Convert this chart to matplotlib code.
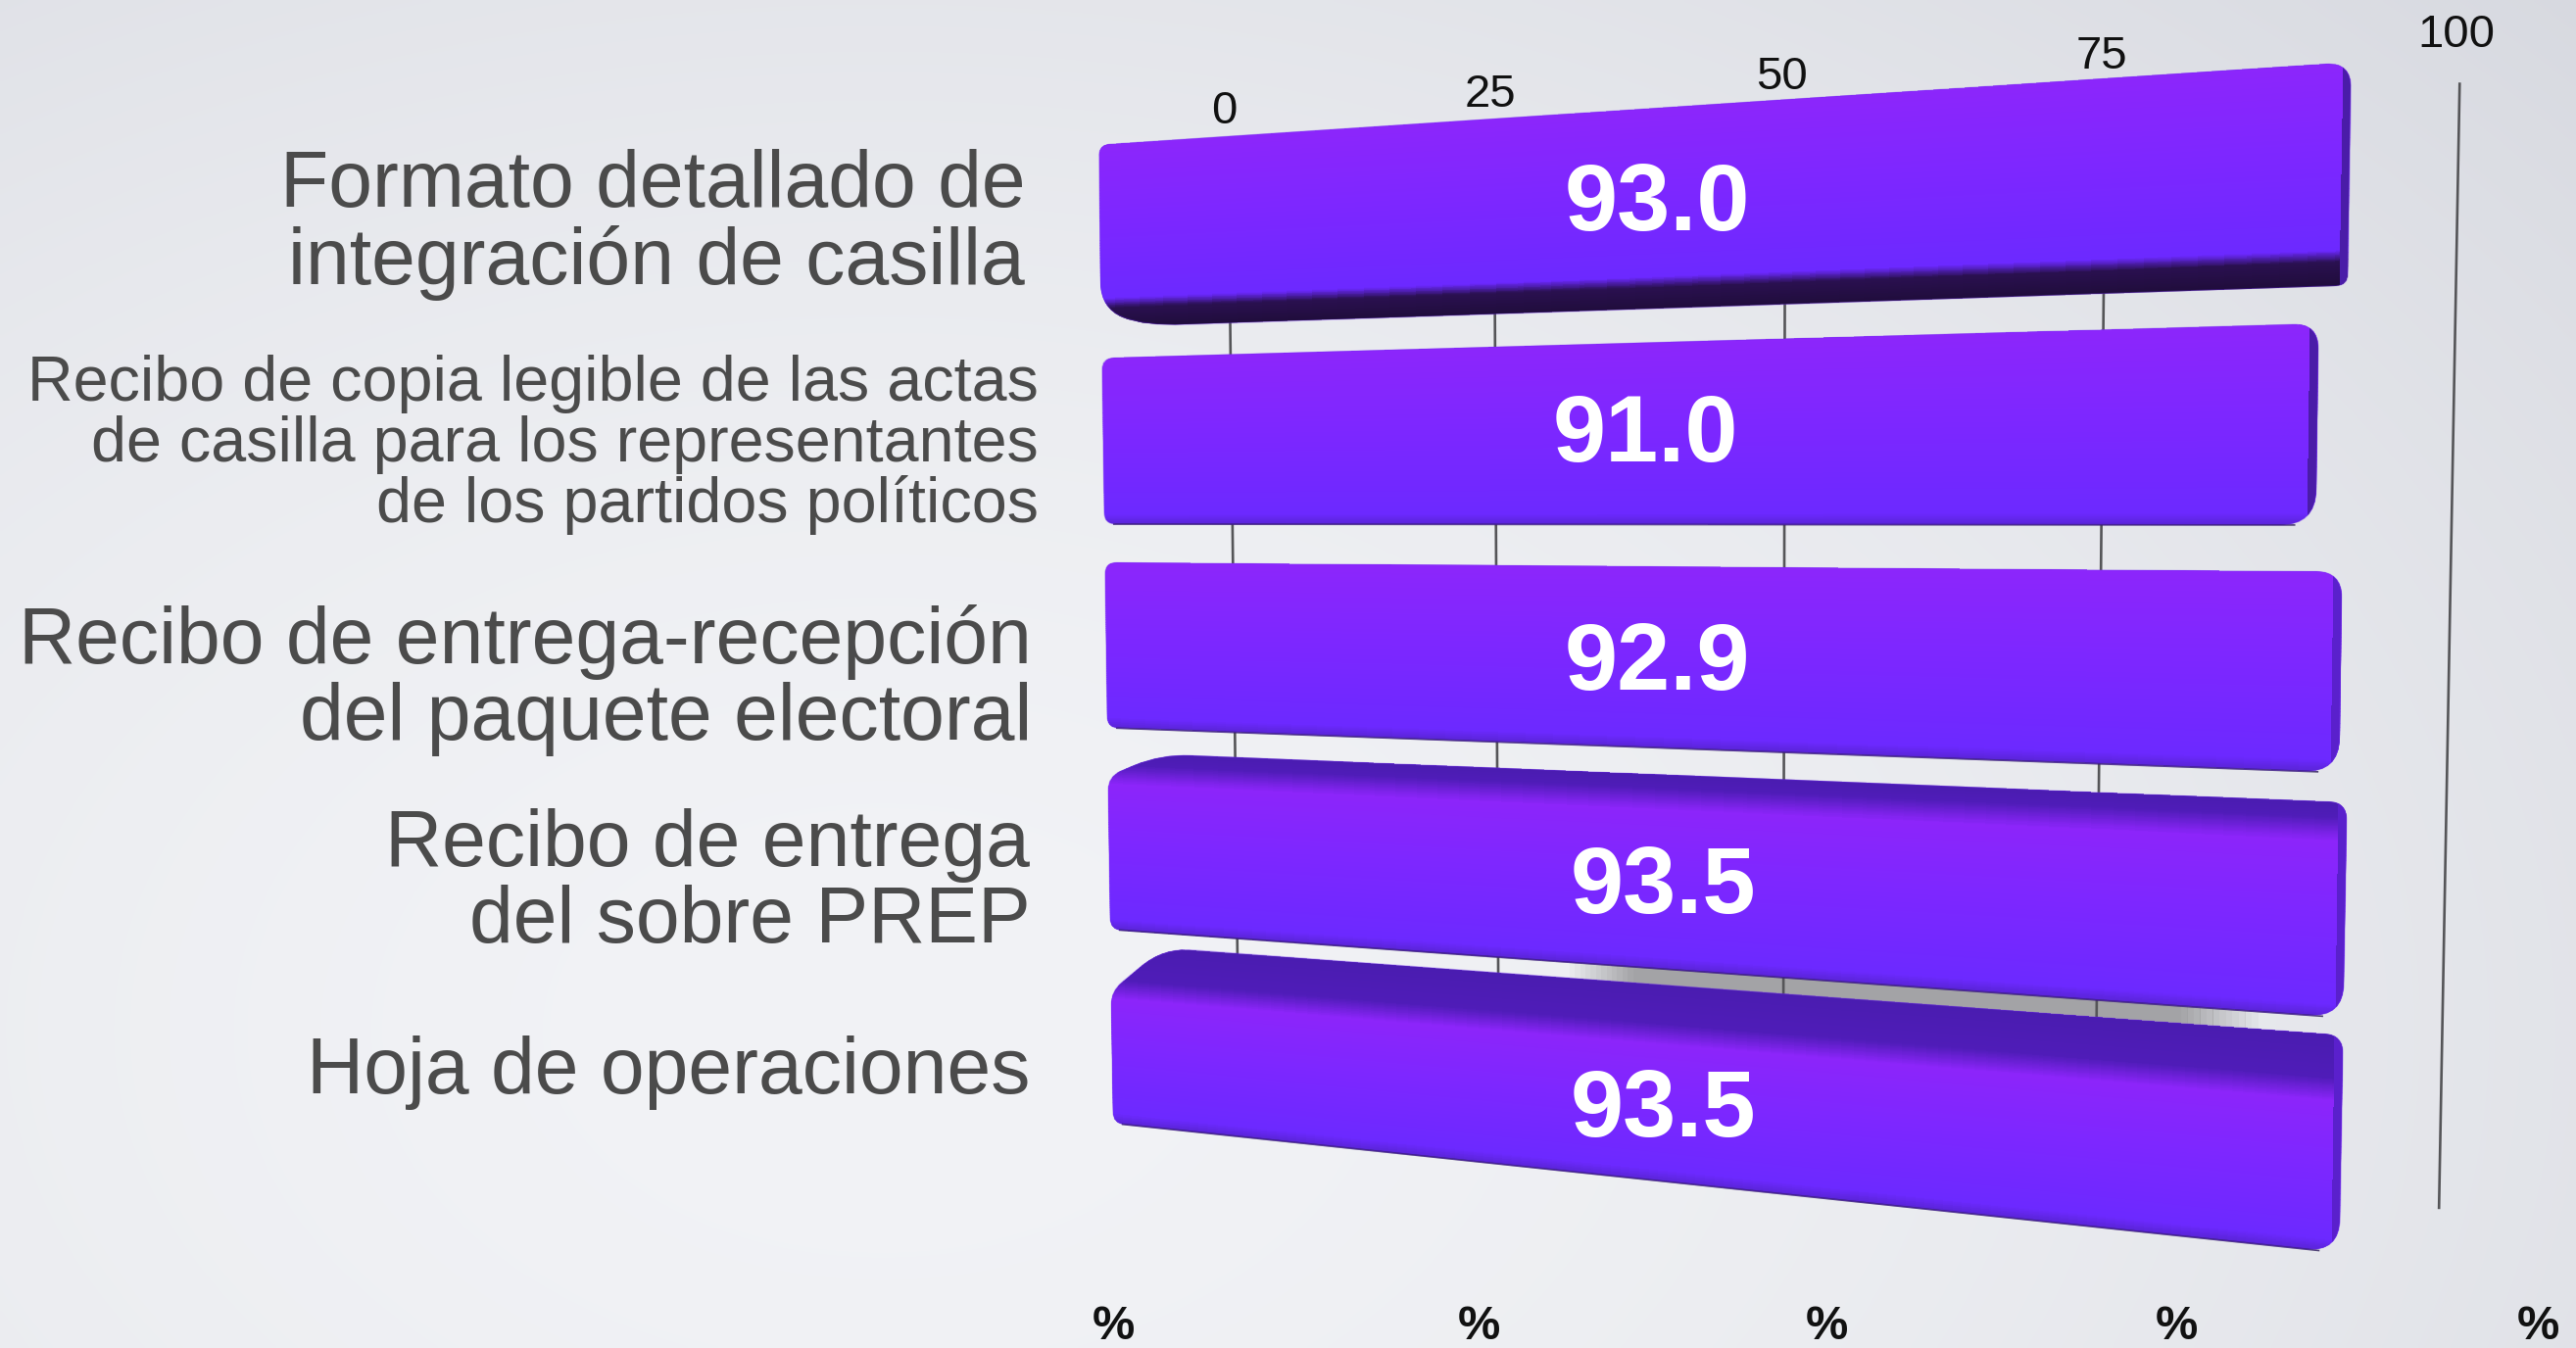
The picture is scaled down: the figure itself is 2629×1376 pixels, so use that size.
#!/usr/bin/env python3
"""Perspective 3D bar chart, drawn through a homography from (value, row depth) to pixels."""
import numpy as np
import matplotlib
matplotlib.use("Agg")
import matplotlib.pyplot as plt
from matplotlib.colors import LinearSegmentedColormap, to_rgb
from matplotlib.path import Path
from matplotlib.patches import PathPatch

W_PX, H_PX = 2629, 1376
S = 2629 / 1568  # layout below was measured on the shrunk view

categories = [
    "Formato detallado de\nintegración de casilla",
    "Recibo de copia legible de las actas\nde casilla para los representantes\nde los partidos políticos",
    "Recibo de entrega-recepción\ndel paquete electoral",
    "Recibo de entrega\ndel sobre PREP",
    "Hoja de operaciones",
]
values = [93.0, 91.0, 92.9, 93.5, 93.5]
value_labels = ["93.0", "91.0", "92.9", "93.5", "93.5"]
ticks = [0, 25, 50, 75, 100]

# row bands in depth units (0 = top of first bar, 1 = bottom of last bar)
front_top = [0.0, 0.214, 0.421, 0.640, 0.862]
front_bot = [0.164, 0.382, 0.590, 0.798, 1.0]
back_top = [None, None, None, 0.615, 0.813]
under = [0.183, None, None, None, None]
cap_color = ["#4a1ca8", "#4a1ca8", "#5a20cc", "#5a20cc", "#5a20cc"]
label_right = [624, 632, 628, 627, 627]
label_y = [137, 271, 414, 538, 653]
label_size = [58, 46.5, 58, 58, 58]
value_dy = [8, 3, 8, 3, 3]
value_dx = [0, -3, 0, 2, 2]
pct_x = [678, 900, 1112, 1325, 1545]
BAR_START = -13.0
END_TRIM = 0.4

# corners of the plane: (0,0) (100,0) (0,1) (100,1)
corners = np.array([[747.5, 83], [1497.5, 33.6], [754.5, 692], [1484, 769]]) * S


def fit_homography(dst):
    src = [(0, 0), (1, 0), (0, 1), (1, 1)]
    A, b = [], []
    for (u, w), (x, y) in zip(src, dst):
        A.append([u, w, 1, 0, 0, 0, -u * x, -w * x]); b.append(x)
        A.append([0, 0, 0, u, w, 1, -u * y, -w * y]); b.append(y)
    h = np.linalg.solve(np.array(A, float), np.array(b, float))
    return np.append(h, 1).reshape(3, 3)


HOM = fit_homography(corners)


def proj(v, w):
    u = np.asarray(v, float) / 100.0
    w = np.asarray(w, float)
    d = HOM[2, 0] * u + HOM[2, 1] * w + HOM[2, 2]
    return ((HOM[0, 0] * u + HOM[0, 1] * w + HOM[0, 2]) / d,
            (HOM[1, 0] * u + HOM[1, 1] * w + HOM[1, 2]) / d)


def rounded_path(pts, radii):
    """Closed path through pts with each corner cut by a quadratic curve."""
    n = len(pts)
    verts, codes = [], []
    for i in range(n):
        p = np.array(pts[i]); a = np.array(pts[i - 1]); c = np.array(pts[(i + 1) % n])
        r = radii[i]
        d1 = (a - p) / np.linalg.norm(a - p)
        d2 = (c - p) / np.linalg.norm(c - p)
        start, end = p + d1 * min(r, np.linalg.norm(a - p) / 2), p + d2 * min(r, np.linalg.norm(c - p) / 2)
        verts.append(start); codes.append(Path.MOVETO if i == 0 else Path.LINETO)
        verts += [p, end]; codes += [Path.CURVE3, Path.CURVE3]
    verts.append(verts[0]); codes.append(Path.CLOSEPOLY)
    return Path(verts, codes)


fig = plt.figure(figsize=(W_PX / 100, H_PX / 100), dpi=100)
ax = fig.add_axes([0, 0, 1, 1])
ax.set_axis_off()

# background
yy, xx = np.mgrid[0:H_PX:4, 0:W_PX:4]
d = np.clip(np.hypot((xx - 900) / 2100, (yy - 1050) / 1400), 0, 1.15) / 1.15
c0, c1 = np.array(to_rgb("#f2f3f6")), np.array(to_rgb("#d6d8df"))
bg = c0 + (c1 - c0) * (d ** 1.7)[..., None]
ax.imshow(bg, extent=(0, W_PX, H_PX, 0), aspect="auto", zorder=0, interpolation="bilinear")
ax.set_xlim(0, W_PX)
ax.set_ylim(H_PX, 0)

# shadow cast in the gap above the last bar
sv = np.linspace(31, 87, 120)
sw = np.array([front_bot[3] - 0.005, back_top[4] + 0.005])
SV, SW = np.meshgrid(sv, sw)
sx, sy = proj(SV, SW)
ramp = np.clip((sv[:-1] - 31) / 6, 0, 1) * np.clip((87 - sv[:-1]) / 6, 0, 1)
shade = LinearSegmentedColormap.from_list("sh", [(0.64, 0.64, 0.65, 0), (0.64, 0.64, 0.65, 1)])
ax.pcolormesh(sx, sy, ramp[None, :], cmap=shade, vmin=0, vmax=1, zorder=1, antialiased=False)

# gridlines
for t in ticks:
    gx, gy = proj([t, t], [0.022, 0.954])
    ax.plot(gx, gy, color="#555558", lw=1.9, zorder=2, solid_capstyle="butt")
    lx, ly = proj(t, -0.024 + 0.008 * t / 100)
    ax.text(lx - 4, ly, str(t), ha="center", va="center", fontsize=34, color="#111111",
            family="Liberation Sans", zorder=5)

# bars
for i, val in enumerate(values):
    ft, fb = front_top[i], front_bot[i]
    wtop = back_top[i] if back_top[i] is not None else ft
    wbot = under[i] if under[i] is not None else fb
    end = val - END_TRIM
    stops = []
    if back_top[i] is not None:
        stops += [(wtop, "#4a1cb0"), (ft - 0.012, "#4f1cb8"), (ft + 0.008, "#8c25fa")]
    else:
        stops += [(ft, "#8c26fb")]
    stops += [(ft + 0.45 * (fb - ft), "#7d27ff"), (fb - 0.01, "#6c29ff")]
    if under[i] is not None:
        stops += [(fb, "#2a1050"), (wbot, "#200d3c")]
    else:
        stops += [(wbot, "#5a24d8")]
    span = wbot - wtop
    cmap = LinearSegmentedColormap.from_list(
        f"bar{i}", [((w - wtop) / span, c) for w, c in stops])

    V, WW = np.meshgrid(np.linspace(BAR_START - 1, end + 1, 12), np.linspace(wtop, wbot, 260))
    mx, my = proj(V, WW)
    mesh = ax.pcolormesh(mx, my, ((WW[:-1, :-1] + WW[1:, 1:]) / 2 - wtop) / span, cmap=cmap,
                         vmin=0, vmax=1, zorder=3, antialiased=False)

    # outline of the solid, slightly chamfered where top or bottom face shows
    outline = []
    if back_top[i] is not None:
        outline += [(BAR_START, ft), (BAR_START + 5.5, wtop), (end, wtop)]
        rad = [14, 30, 18]
    else:
        outline += [(BAR_START, ft), (end, wtop)]
        rad = [12, 26]
    if under[i] is not None:
        outline += [(end, wbot), (BAR_START + 4.5, wbot), (BAR_START, fb)]
        rad += [12, 40, 26]
    else:
        outline += [(end, wbot), (BAR_START, fb)]
        rad += [36, 12]
    px = [tuple(map(float, proj(v, w))) for v, w in outline]
    clip = rounded_path(px, rad)
    patch = PathPatch(clip, facecolor="none", edgecolor="none", transform=ax.transData)
    ax.add_patch(patch)
    mesh.set_clip_path(patch)

    # darker end cap at the right
    cv, cw = np.meshgrid([end - 0.55, end + 1], [wtop, wbot])
    cx, cy = proj(cv, cw)
    cap = ax.pcolormesh(cx, cy, [[0]], cmap=LinearSegmentedColormap.from_list(
        "cap", [cap_color[i], cap_color[i]]), zorder=3.1, antialiased=False)
    cap.set_clip_path(patch)

    # thin dark edge along the lower front edge
    if under[i] is None:
        ex, ey = proj([BAR_START + 1, end - 1.5], [wbot, wbot])
        ax.plot(ex, ey, color="#2b1a58", lw=1.2, alpha=0.8, zorder=3.2)

    # smooth the clipped outline a little
    ax.add_patch(PathPatch(clip, facecolor="none", edgecolor="#6f2bf0", lw=0.8, alpha=0.35, zorder=3.3))

    tx, ty = proj(val * 0.423, (ft + fb) / 2)
    ax.text(tx + value_dx[i], ty + value_dy[i], value_labels[i], ha="center", va="center", color="white",
            fontsize=70, fontweight="bold", family="Liberation Sans", zorder=6)

# category labels
for lab, xr, yc, fs in zip(categories, label_right, label_y, label_size):
    ax.text(xr * S, yc * S, lab, ha="right", va="center", fontsize=fs, color="#4b4b4b",
            family="Liberation Sans", linespacing=1.03, zorder=5)

# unit row along the bottom
for xp in pct_x:
    ax.text(xp * S, 808 * S, "%", ha="center", va="center", fontsize=35, fontweight="bold",
            color="#111111", family="Liberation Sans", zorder=5)

fig.savefig("out.png", dpi=100)
